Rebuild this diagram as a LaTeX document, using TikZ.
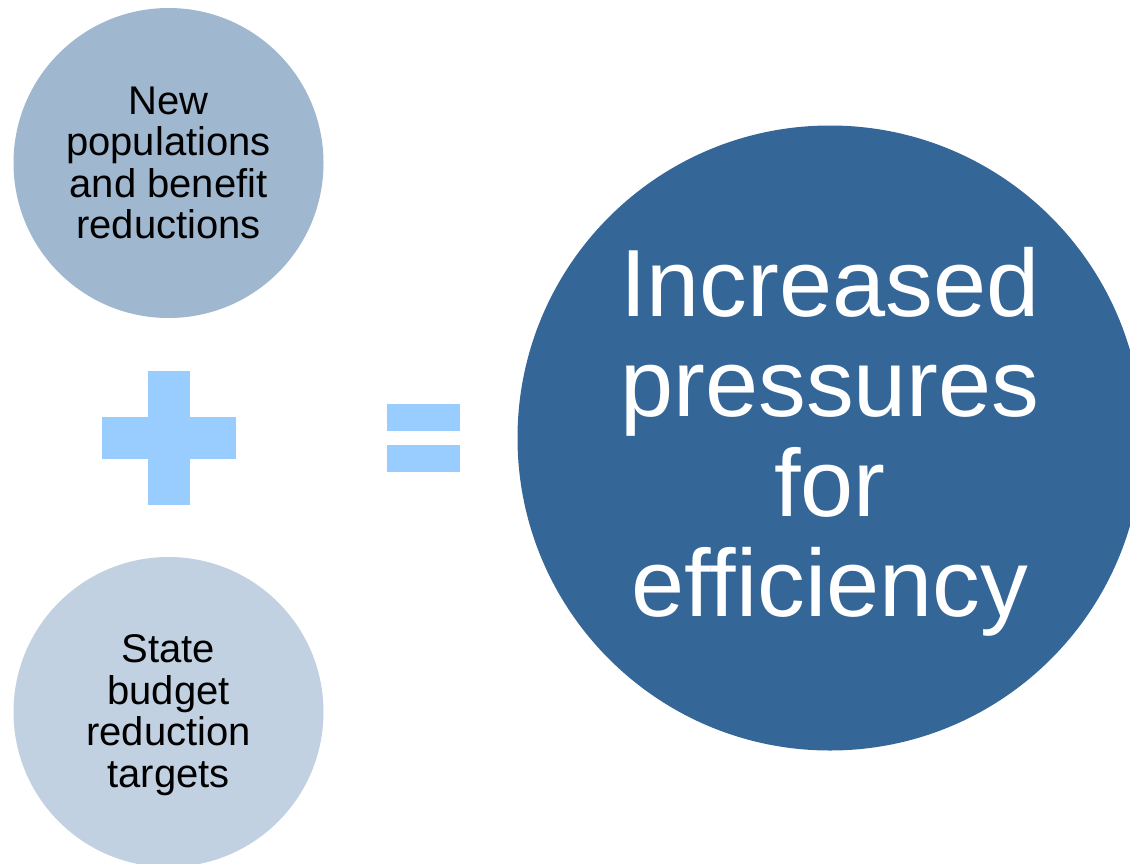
\documentclass[tikz,border=0pt]{standalone}
\usepackage{fontspec}
\setmainfont{Liberation Sans}
\definecolor{topc}{HTML}{9FB7CF}
\definecolor{botc}{HTML}{C1D1E1}
\definecolor{bigc}{HTML}{346698}
\definecolor{signc}{HTML}{99CCFF}
\begin{document}
\begin{tikzpicture}[x=1pt,y=-1pt,
  smallcirc/.style={circle, inner sep=0pt, minimum size=310pt, align=center, font=\fontsize{40}{41.5}\selectfont, text=black},
  bigcirc/.style={circle, inner sep=0pt, minimum size=625pt, fill=bigc, align=center, font=\fontsize{95.5}{100}\selectfont, text=white}]
\useasboundingbox (0,0) rectangle (1130,863);
\clip (0,0) rectangle (1130,863);
\fill[white] (0,0) rectangle (1130,863);
\node[smallcirc, fill=topc] (top) at (168.5,163) {};
\node[smallcirc, fill=botc] (bot) at (168.5,712) {};
\node[bigcirc] (big) at (830,438) {};
\node[smallcirc] (toptext) at (168.5,163) {New\\populations\\and benefit\\reductions};
\node[smallcirc] (bottext) at (168.5,715) {State\\budget\\reduction\\targets};
\node[bigcirc, fill=none] (bigtext) at (830,442) {Increased\\pressures\\for\\efficiency};
% plus sign
\fill[signc] (102,416.5) rectangle (236,459);
\fill[signc] (147.5,371) rectangle (190,505);
% equals sign
\fill[signc] (387,403.5) rectangle (460,430.5);
\fill[signc] (387,445) rectangle (460,472);
\end{tikzpicture}
\end{document}
